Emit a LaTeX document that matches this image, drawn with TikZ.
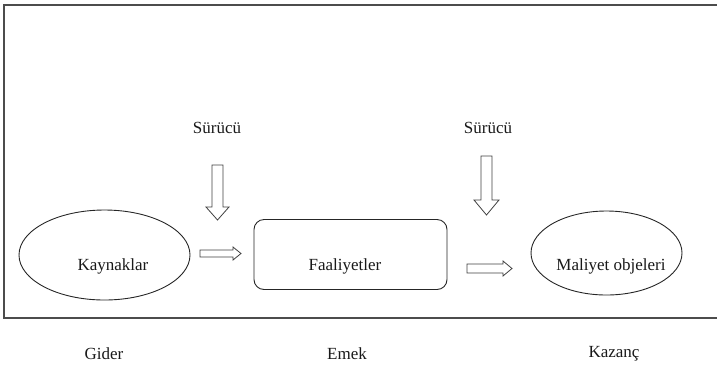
\documentclass[tikz,border=0pt]{standalone}
\usepackage{fontspec}
\setmainfont{Liberation Serif}
\usetikzlibrary{shapes.geometric}
\begin{document}
\begin{tikzpicture}[x=1pt,y=-1pt,
  line join=miter,
  lbl/.style={inner sep=0pt,font=\fontsize{17}{19}\selectfont,text=black!90},
  blob/.style={draw=black!85,line width=0.9pt,ellipse,inner sep=0pt},
  card/.style={draw=black!85,line width=0.9pt,rounded corners=10pt,inner sep=0pt},
  barrow/.style={draw=black!75,line width=0.8pt,fill=white}]
\useasboundingbox (0,0) rectangle (717,368);
% open frame (no right edge)
\draw[black!70,line width=1.6pt] (717,5) -- (4,5) -- (4,318) -- (717,318);

% main nodes
\node[blob,minimum width=171pt,minimum height=90pt] (res) at (104.5,255) {};
\node[card,minimum width=193pt,minimum height=70pt] (act) at (350.5,254.5) {};
\node[blob,minimum width=151pt,minimum height=84pt] (obj) at (606.5,253) {};

\node[lbl] (tres) at (113,266) {Kaynaklar};
\node[lbl] (tact) at (345,266) {Faaliyetler};
\node[lbl] (tobj) at (611,266) {Maliyet objeleri};

\node[lbl] (d1) at (217,128) {Sürücü};
\node[lbl] (d2) at (488,128) {Sürücü};

\node[lbl] (g) at (104,354) {Gider};
\node[lbl] (e) at (347,354) {Emek};
\node[lbl] (k) at (614,354) {Kazanç};

% block arrows
\draw[barrow] (200,250) -- (233,250) -- (233,247) -- (241,253.5) -- (233,260)
  -- (233,257) -- (200,257) -- cycle;
\draw[barrow] (467,264) -- (503,264) -- (503,261) -- (512,268.5) -- (503,276)
  -- (503,273) -- (467,273) -- cycle;
\draw[barrow] (212,165) -- (223,165) -- (223,207) -- (229,207) -- (217.5,220)
  -- (206,207) -- (212,207) -- cycle;
\draw[barrow] (481,156) -- (492,156) -- (492,200) -- (499,200) -- (486.5,215)
  -- (474,200) -- (481,200) -- cycle;
\end{tikzpicture}
\end{document}
